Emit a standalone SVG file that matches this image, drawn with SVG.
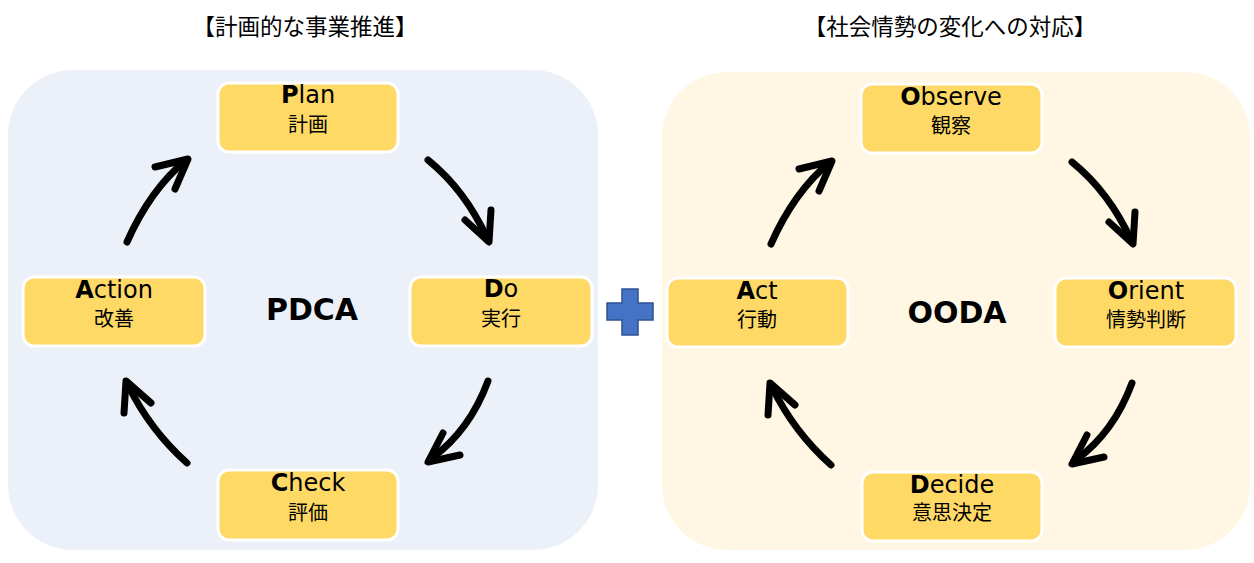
<svg xmlns="http://www.w3.org/2000/svg" width="1254" height="563" viewBox="0 0 1254 563">
<defs>
<style>
.panel-l{fill:#ECF0F8;}
.panel-r{fill:#FFF7E3;}
.box{fill:#FFD966;stroke:#FFFFFF;stroke-width:3;}
.en{font-family:"DejaVu Sans","Noto Sans",sans-serif;font-size:24px;fill:#000;text-anchor:middle;}
.en tspan.b{font-weight:bold;}
.jp{font-family:"Noto Sans CJK JP","Noto Sans",sans-serif;font-size:20px;fill:#000;text-anchor:middle;}
.title{font-family:"Noto Sans CJK JP","Noto Sans",sans-serif;font-size:22.5px;fill:#000;text-anchor:middle;}
.center{font-family:"DejaVu Sans","Noto Sans",sans-serif;font-size:30px;font-weight:bold;fill:#000;text-anchor:middle;}
.arr{fill:none;stroke:#000;stroke-width:7;stroke-linecap:round;stroke-linejoin:round;}
</style>
</defs>
<rect class="panel-l" x="8" y="70" width="590" height="480" rx="65"/>
<rect class="panel-r" x="662" y="72" width="588" height="478" rx="65"/>
<text class="title" x="305" y="35">【計画的な事業推進】</text>
<text class="title" x="950" y="35">【社会情勢の変化への対応】</text>
<text class="center" x="312" y="320">PDCA</text>
<text class="center" x="957" y="323">OODA</text>
<g id="plan"><rect class="box" x="218" y="83" width="180" height="69" rx="11"/><text class="en" x="308" y="103"><tspan class="b">P</tspan>lan</text><text class="jp" x="308" y="132">計画</text></g>
<g id="do"><rect class="box" x="410" y="277" width="182" height="69" rx="11"/><text class="en" x="501" y="297"><tspan class="b">D</tspan>o</text><text class="jp" x="501" y="326">実行</text></g>
<g id="check"><rect class="box" x="218" y="470" width="180" height="70" rx="11"/><text class="en" x="308" y="491"><tspan class="b">C</tspan>heck</text><text class="jp" x="308" y="520">評価</text></g>
<g id="action"><rect class="box" x="23" y="277" width="182" height="69" rx="11"/><text class="en" x="114" y="298"><tspan class="b">A</tspan>ction</text><text class="jp" x="114" y="326">改善</text></g>
<g id="observe"><rect class="box" x="861" y="84" width="181" height="69" rx="11"/><text class="en" x="951" y="105"><tspan class="b">O</tspan>bserve</text><text class="jp" x="951" y="133">観察</text></g>
<g id="orient"><rect class="box" x="1055" y="278" width="181" height="69" rx="11"/><text class="en" x="1146" y="299"><tspan class="b">O</tspan>rient</text><text class="jp" x="1146" y="327">情勢判断</text></g>
<g id="decide"><rect class="box" x="862" y="472" width="180" height="69" rx="11"/><text class="en" x="952" y="493"><tspan class="b">D</tspan>ecide</text><text class="jp" x="952" y="520">意思決定</text></g>
<g id="act"><rect class="box" x="667" y="278" width="181" height="69" rx="11"/><text class="en" x="757" y="299"><tspan class="b">A</tspan>ct</text><text class="jp" x="757" y="327">行動</text></g>
<g id="plus"><path d="M622,289 H638 V303 H653 V320 H638 V335 H622 V320 H607 V303 H622 Z" fill="#4472C4" stroke="#2F528F" stroke-width="1.5"/></g>
<g id="connectors">
<g id="pdca-arrows">
<path class="arr" d="M127,242 Q150,190 186,160"/><polyline class="arr" points="155,167 188,159 175,189"/>
<path class="arr" d="M428,160 Q465,190 487,238"/><polyline class="arr" points="465,220 489,242 491,210"/>
<path class="arr" d="M488,381 Q470,430 432,458"/><polyline class="arr" points="443,433 428,462 460,455"/>
<path class="arr" d="M187,463 Q150,430 128,385"/><polyline class="arr" points="124,413 126,381 151,403"/>
</g>
<g id="ooda-arrows" transform="translate(644,2)">
<path class="arr" d="M127,242 Q150,190 186,160"/><polyline class="arr" points="155,167 188,159 175,189"/>
<path class="arr" d="M428,160 Q465,190 487,238"/><polyline class="arr" points="465,220 489,242 491,210"/>
<path class="arr" d="M488,381 Q470,430 432,458"/><polyline class="arr" points="443,433 428,462 460,455"/>
<path class="arr" d="M187,463 Q150,430 128,385"/><polyline class="arr" points="124,413 126,381 151,403"/>
</g>
</g>
</svg>
